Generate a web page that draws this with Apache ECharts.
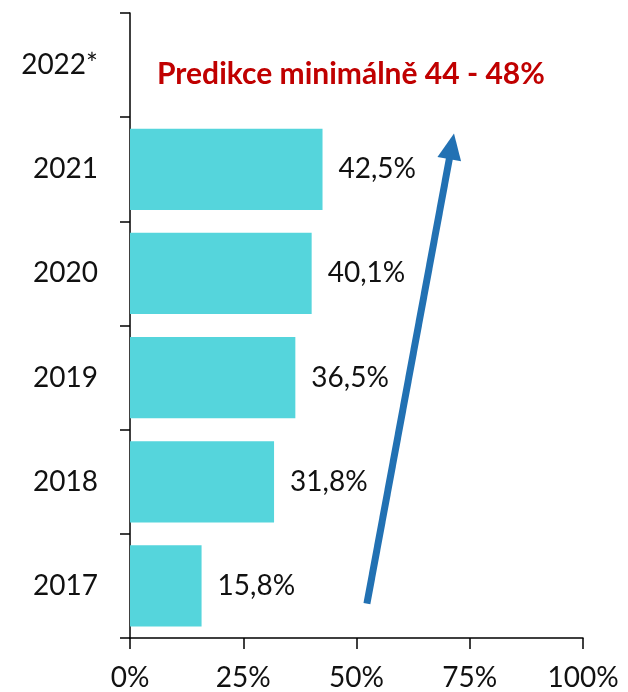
<!DOCTYPE html>
<html>
<head>
<meta charset="utf-8">
<script src="https://cdn.jsdelivr.net/npm/echarts@6/dist/echarts.min.js"></script>
<style>
  html, body { margin: 0; padding: 0; background: #fff; }
  #chart { width: 628px; height: 692px; }
</style>
</head>
<body>
<div id="chart"></div>
<script>
// data
var years = ['2017', '2018', '2019', '2020', '2021', '2022*'];
var shares = [15.8, 31.8, 36.5, 40.1, 42.5, null];
var xTicks = [0, 25, 50, 75, 100];
var note = 'Predikce minimálně 44 - 48%';
// trend arrow, in (percent, row) units
var arrowFrom = [52.3, 0.33];
var arrowTo = [71.0, 4.72];

var font = 'Lato';
var chart = echarts.init(document.getElementById('chart'));

var option = {
  animation: false,
  backgroundColor: '#fff',
  textStyle: { fontFamily: font },
  title: {
    text: note,
    left: 152,
    top: 54,
    textStyle: { color: '#C00000', fontSize: 30, fontWeight: 'bold', fontFamily: font }
  },
  grid: { left: 130, right: 45, top: 13, bottom: 53 },
  xAxis: {
    type: 'value',
    min: xTicks[0],
    max: xTicks[xTicks.length - 1],
    interval: 25,
    splitLine: { show: false },
    axisLine: { show: true, lineStyle: { color: '#000', width: 1.5 } },
    axisTick: { show: true, length: 11, lineStyle: { color: '#000', width: 1.5 } },
    axisLabel: { color: '#111', fontSize: 28, margin: 26, formatter: '{value}%' }
  },
  yAxis: [{
    type: 'category',
    data: years,
    axisLine: { lineStyle: { color: '#000', width: 1.5 } },
    axisTick: { show: true, length: 10, lineStyle: { color: '#000', width: 1.5 } },
    axisLabel: { color: '#111', fontSize: 28, margin: 32 }
  }, {
    type: 'value',
    min: 0,
    max: years.length,
    show: false
  }],
  series: [{
    type: 'bar',
    data: shares,
    barCategoryGap: '22%',
    itemStyle: { color: '#55D5DC' },
    label: {
      show: true,
      position: 'right',
      distance: 16,
      color: '#111',
      fontSize: 28,
      formatter: function (p) {
        return p.value == null ? '' : String(p.value).replace('.', ',') + '%';
      }
    }
  }, {
    type: 'line',
    yAxisIndex: 1,
    data: [],
    silent: true,
    markLine: {
      silent: true,
      symbol: ['none', 'triangle'],
      symbolSize: [24, 26],
      label: { show: false },
      lineStyle: { color: '#2271B3', width: 7, type: 'solid' },
      data: [[{ coord: arrowFrom }, { coord: arrowTo }]]
    }
  }]
};

chart.setOption(option);
</script>
</body>
</html>
